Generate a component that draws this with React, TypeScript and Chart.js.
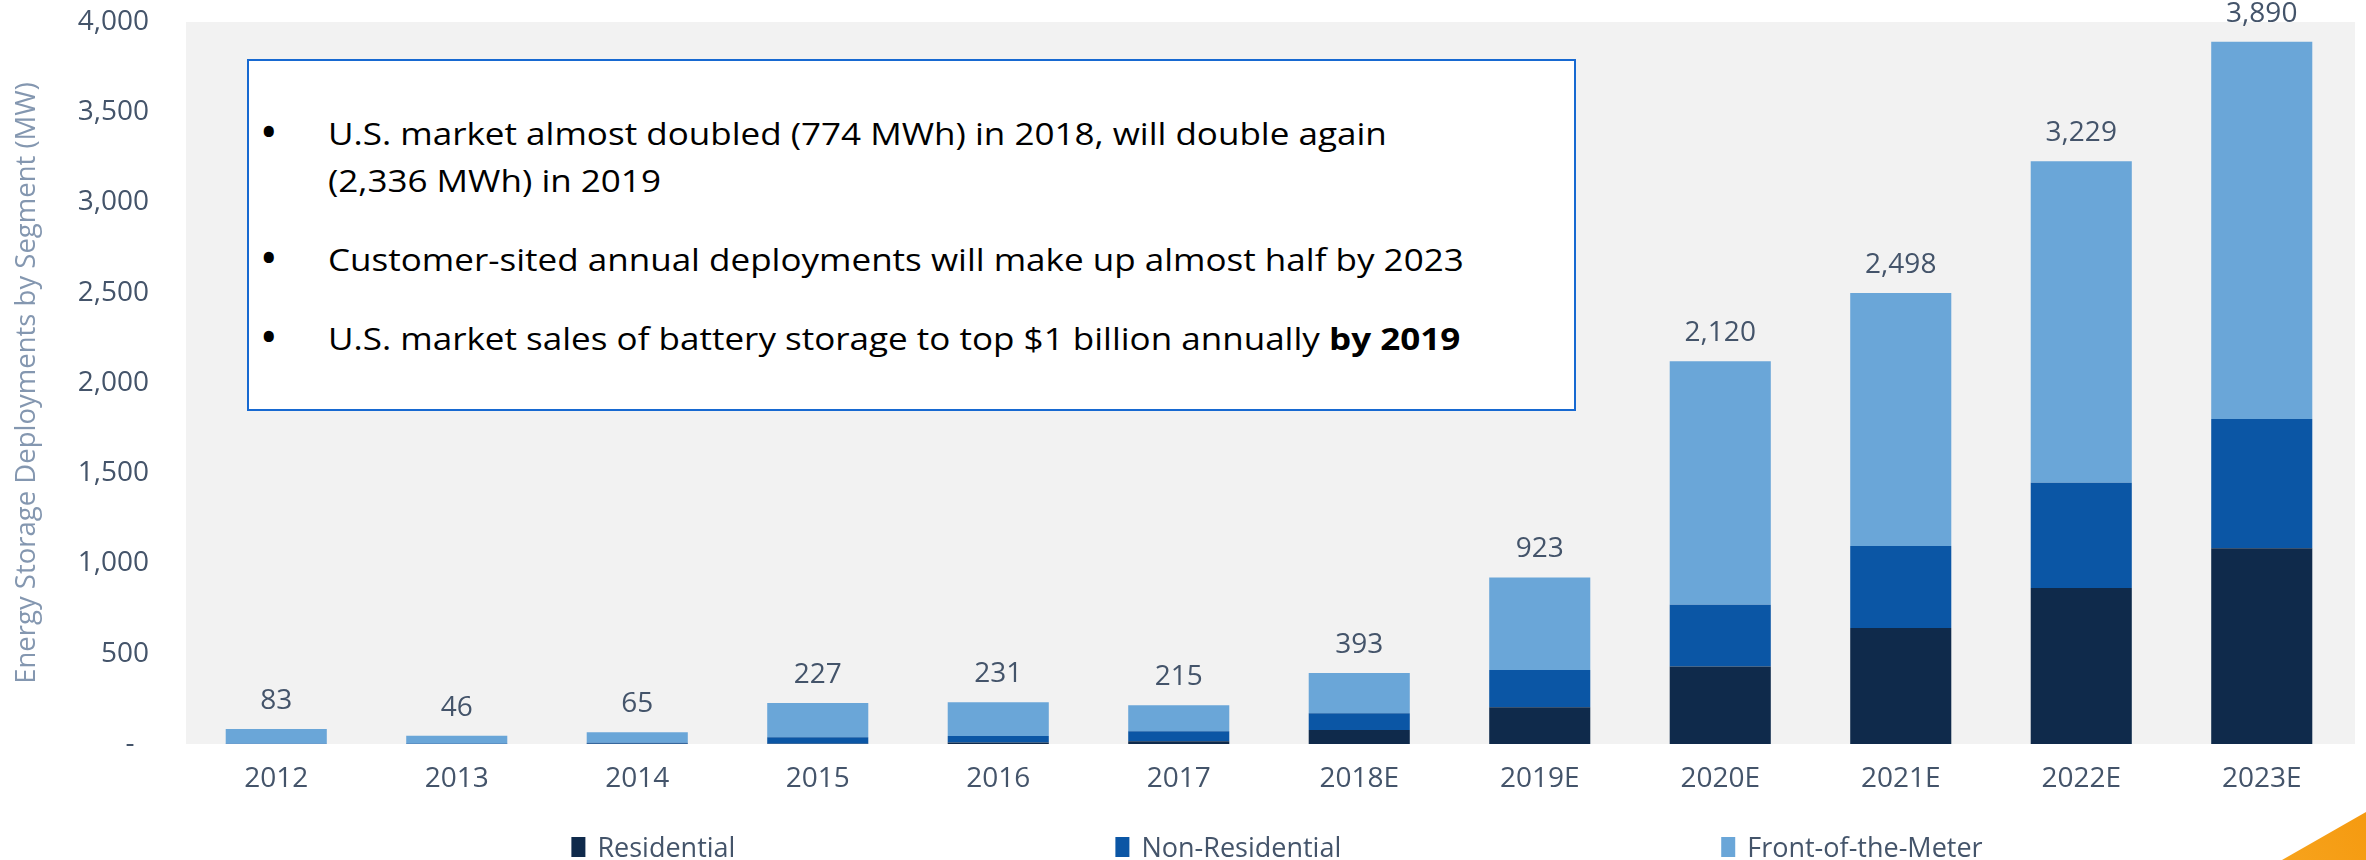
import React, { useEffect, useRef } from 'react';
import { Chart, registerables } from 'chart.js';

Chart.register(...registerables);

const categories = ['2012', '2013', '2014', '2015', '2016', '2017', '2018E', '2019E', '2020E', '2021E', '2022E', '2023E'];
const residential = [0, 0, 1, 2, 8, 15, 78, 203, 430, 643, 864, 1084];
const nonResidential = [2, 3, 6, 35, 37, 55, 92, 207, 342, 454, 583, 717];
const frontOfTheMeter = [81, 43, 58, 190, 186, 145, 223, 513, 1348, 1401, 1782, 2089];
const totals = [83, 46, 65, 227, 231, 215, 393, 923, 2120, 2498, 3229, 3890];
const seriesNames = ['Residential', 'Non-Residential', 'Front-of-the-Meter'];
const seriesColors = ['#0f2a4b', '#0b56a5', '#6aa6d8'];
const yMin = 0;
const yMax = 4000;
const yStep = 500;
const yTitle = 'Energy Storage Deployments by Segment (MW)';

const FONT = "'Open Sans', 'Noto Sans', sans-serif";
const TICK_COLOR = '#44546a';

const bgPlugin = {
  id: 'plotBg',
  beforeDraw(chart: any) {
    const { ctx, chartArea: a } = chart;
    ctx.save();
    ctx.fillStyle = '#f2f2f2';
    ctx.fillRect(a.left, a.top, a.right - a.left + 3, a.bottom - a.top);
    ctx.restore();
  },
};

const totalsPlugin = {
  id: 'totals',
  afterDatasetsDraw(chart: any) {
    const { ctx } = chart;
    const xs = chart.scales.x;
    const ys = chart.scales.y;
    ctx.save();
    ctx.font = `28px ${FONT}`;
    ctx.fillStyle = TICK_COLOR;
    ctx.textAlign = 'center';
    ctx.textBaseline = 'alphabetic';
    totals.forEach((t, i) => {
      ctx.fillText(t.toLocaleString('en-US'), xs.getPixelForValue(i), ys.getPixelForValue(t) - 20);
    });
    ctx.restore();
  },
};

const legendPlugin = {
  id: 'customLegend',
  afterDraw(chart: any) {
    const { ctx, chartArea: a } = chart;
    ctx.save();
    ctx.font = `27px ${FONT}`;
    const boxW = 14;
    const boxH = 20;
    const textGap = 12;
    const itemGap = 380;
    const items = chart.data.datasets.map((d: any) => ({
      label: d.label,
      color: d.backgroundColor,
      w: boxW + textGap + ctx.measureText(d.label).width,
    }));
    const total = items.reduce((s: number, it: any) => s + it.w, 0) + itemGap * (items.length - 1);
    let x = (a.left + a.right) / 2 + 8 - total / 2;
    const baseline = 857;
    items.forEach((it: any) => {
      ctx.fillStyle = it.color;
      ctx.fillRect(x, baseline - boxH, boxW, boxH);
      ctx.fillStyle = TICK_COLOR;
      ctx.textAlign = 'left';
      ctx.textBaseline = 'alphabetic';
      ctx.fillText(it.label, x + boxW + textGap, baseline);
      x += it.w + itemGap;
    });
    ctx.restore();
  },
};

const cornerPlugin = {
  id: 'corner',
  afterDraw(chart: any) {
    const { ctx, width, height } = chart;
    ctx.save();
    const g = ctx.createLinearGradient(width - 84, height, width, height - 48);
    g.addColorStop(0, '#f7a31c');
    g.addColorStop(1, '#f59a10');
    ctx.fillStyle = g;
    ctx.beginPath();
    ctx.moveTo(width - 84, height);
    ctx.lineTo(width, height - 48);
    ctx.lineTo(width, height);
    ctx.closePath();
    ctx.fill();
    ctx.restore();
  },
};

const bulletLines = [
  { bullet: true, baseline: 145, parts: [{ text: 'U.S. market almost doubled (774 MWh) in 2018, will double again', bold: false }] },
  { bullet: false, baseline: 192, parts: [{ text: '(2,336 MWh) in 2019', bold: false }] },
  { bullet: true, baseline: 271, parts: [{ text: 'Customer-sited annual deployments will make up almost half by 2023', bold: false }] },
  {
    bullet: true,
    baseline: 350,
    parts: [
      { text: 'U.S. market sales of battery storage to top $1 billion annually ', bold: false },
      { text: 'by 2019', bold: true },
    ],
  },
];

export default function App() {
  const canvasRef = useRef<HTMLCanvasElement | null>(null);

  useEffect(() => {
    document.body.style.margin = '0';
    document.body.style.overflow = 'hidden';
    const canvas = canvasRef.current;
    if (!canvas) return;
    const chart = new Chart(canvas, {
      type: 'bar',
      data: {
        labels: categories,
        datasets: [
          { label: seriesNames[0], data: residential, backgroundColor: seriesColors[0] },
          { label: seriesNames[1], data: nonResidential, backgroundColor: seriesColors[1] },
          { label: seriesNames[2], data: frontOfTheMeter, backgroundColor: seriesColors[2] },
        ].map((d) => ({ ...d, barPercentage: 0.56, categoryPercentage: 1.0, borderWidth: 0 })),
      },
      options: {
        responsive: false,
        devicePixelRatio: 1,
        animation: false,
        layout: { padding: { top: 22, right: 14, left: 0, bottom: 0 } },
        plugins: {
          legend: { display: false },
          tooltip: { enabled: false },
        },
        scales: {
          x: {
            stacked: true,
            grid: { display: false, drawTicks: false },
            border: { display: false },
            ticks: { font: { family: FONT, size: 28 }, color: TICK_COLOR, padding: 18, maxRotation: 0 },
            afterFit: (s: any) => {
              s.height = 116;
            },
          },
          y: {
            stacked: true,
            min: yMin,
            max: yMax,
            grid: { display: false, drawTicks: false },
            border: { display: false },
            ticks: {
              stepSize: yStep,
              padding: 37,
              font: { family: FONT, size: 28 },
              color: TICK_COLOR,
              callback: (v: any) => (Number(v) === 0 ? '-  ' : Number(v).toLocaleString('en-US')),
            },
            title: {
              display: true,
              text: yTitle,
              color: '#8497b0',
              font: { family: FONT, size: 27.5 },
              padding: { top: 11, bottom: 0 },
            },
            afterFit: (s: any) => {
              s.width = 186;
              s.paddingTop = 0;
              s.paddingBottom = 0;
            },
          },
        },
      },
      plugins: [bgPlugin, totalsPlugin, legendPlugin, cornerPlugin],
    });
    return () => chart.destroy();
  }, []);

  const fontSize = 31;
  const topOffset = 27.5;

  return (
    <div style={{ position: 'relative', width: 2366, height: 860, overflow: 'hidden', background: '#fff' }}>
      <canvas ref={canvasRef} width={2366} height={860} style={{ position: 'absolute', left: 0, top: 0 }} />
      <div
        style={{
          position: 'absolute',
          left: 247,
          top: 59,
          width: 1329,
          height: 352,
          boxSizing: 'border-box',
          border: '2px solid #1769d1',
          background: '#ffffff',
        }}
      />
      {bulletLines.map((ln, i) => (
        <React.Fragment key={i}>
          {ln.bullet && (
            <div
              style={{
                position: 'absolute',
                left: 262,
                top: ln.baseline - 31,
                fontFamily: FONT,
                fontSize: 36,
                fontWeight: 700,
                lineHeight: '36px',
                color: '#000',
                whiteSpace: 'nowrap',
              }}
            >
              •
            </div>
          )}
          <div
            style={{
              position: 'absolute',
              left: 328,
              top: ln.baseline - topOffset,
              fontFamily: FONT,
              fontSize,
              lineHeight: `${fontSize}px`,
              color: '#000',
              whiteSpace: 'nowrap',
              transform: 'scaleX(1.13)',
              transformOrigin: 'left center',
            }}
          >
            {ln.parts.map((p, j) => (
              <span key={j} style={{ fontWeight: p.bold ? 700 : 400 }}>
                {p.text}
              </span>
            ))}
          </div>
        </React.Fragment>
      ))}
    </div>
  );
}
